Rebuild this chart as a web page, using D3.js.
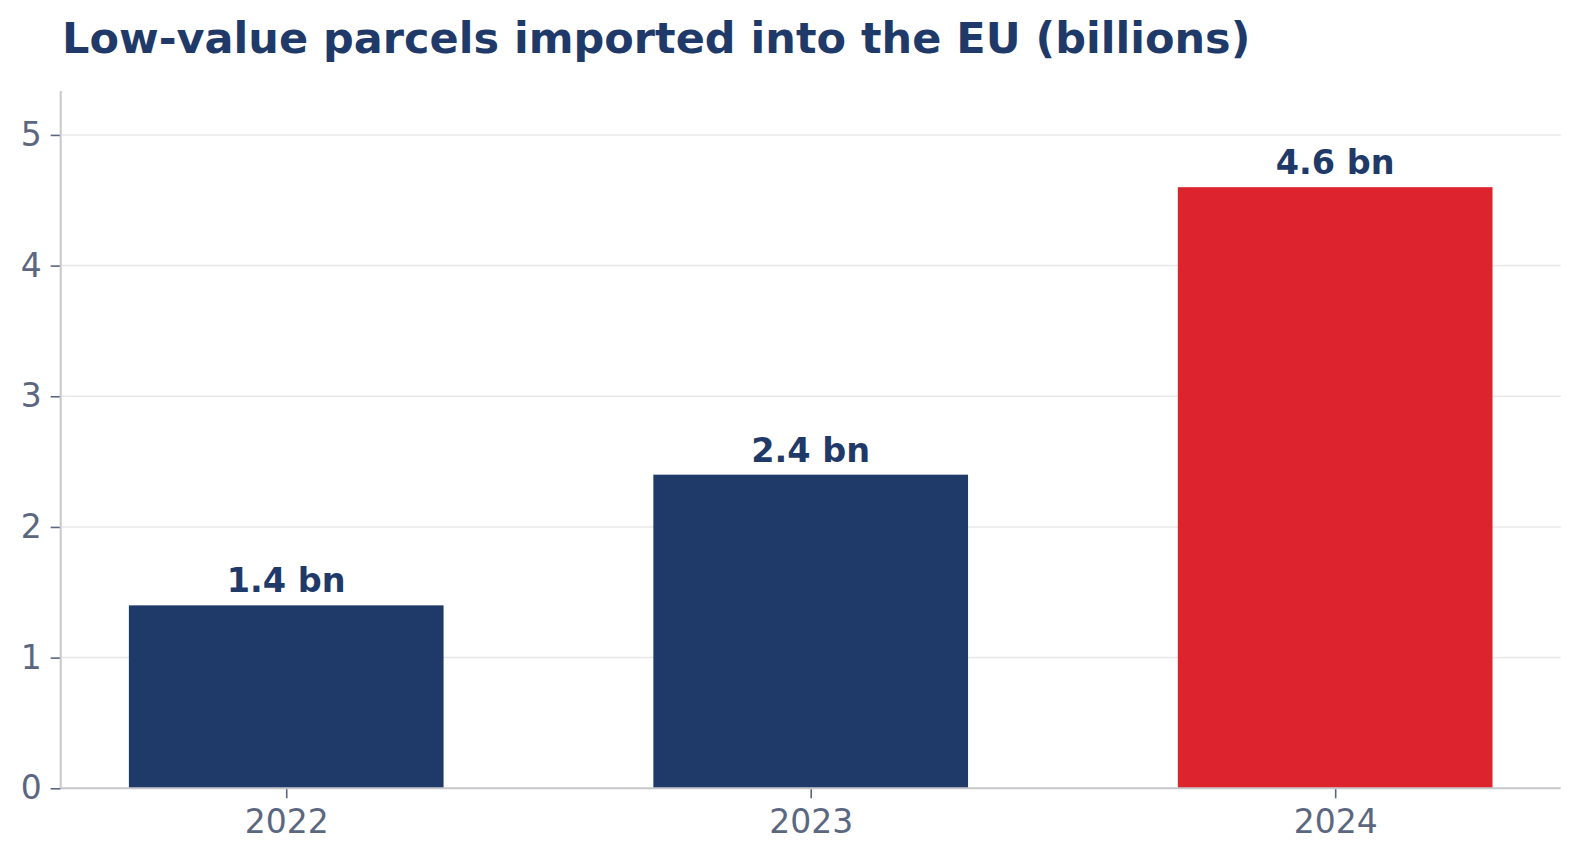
<!DOCTYPE html>
<html>
<head>
<meta charset="utf-8">
<script src="https://cdn.jsdelivr.net/npm/d3@7"></script>
<style>
  html, body { margin: 0; padding: 0; background: #fff; }
  svg text { font-family: "DejaVu Sans", sans-serif; }
</style>
</head>
<body>
<svg id="chart" width="1580" height="860"></svg>
<script>
// Chart data.
const years      = [ '2022', '2023', '2024' ];
const parcels    = [ 1.4, 2.4, 4.6 ];
const valueNames = [ '1.4 bn', '2.4 bn', '4.6 bn' ];
const yTicks     = [ 0, 1, 2, 3, 4, 5 ];

// Colours.
const navy  = '#1f3a68';
const red   = '#dc232e';
const slate = '#5b6780';

// Plot area.
const plotLeft = 60.7, plotRight = 1560.7, plotTop = 91, plotBottom = 788.3;

const svg = d3.select( '#chart' );

const x = d3.scaleLinear( )
  .domain( [ -0.43, years.length - 1 + 0.43 ] )
  .range( [ plotLeft, plotRight ] );

const y = d3.scaleLinear( )
  .domain( [ 0, d3.max( parcels ) * 1.16 ] )
  .range( [ plotBottom, plotTop ] );

const barWidth = x( 0.6 ) - x( 0 );

// Gridlines.
svg.append( 'g' )
  .selectAll( 'line' )
  .data( yTicks.filter( t => t > 0 ) )
  .enter( )
  .append( 'line' )
    .attr( 'x1', plotLeft )
    .attr( 'x2', plotRight )
    .attr( 'y1', d => y( d ) )
    .attr( 'y2', d => y( d ) )
    .attr( 'stroke', '#e8e8ea' )
    .attr( 'stroke-width', 1.5 );

// Bars.
svg.append( 'g' )
  .selectAll( 'rect' )
  .data( parcels )
  .enter( )
  .append( 'rect' )
    .attr( 'x', ( d, i ) => x( i ) - barWidth / 2 )
    .attr( 'y', d => y( d ) )
    .attr( 'width', barWidth )
    .attr( 'height', d => y( 0 ) - y( d ) )
    .attr( 'fill', ( d, i ) => i === years.length - 1 ? red : navy );

// Value labels.
svg.append( 'g' )
  .selectAll( 'text' )
  .data( parcels )
  .enter( )
  .append( 'text' )
    .attr( 'x', ( d, i ) => x( i ) )
    .attr( 'y', d => y( d ) - 13 )
    .attr( 'text-anchor', 'middle' )
    .attr( 'fill', navy )
    .attr( 'font-size', 33.5 )
    .attr( 'font-weight', 'bold' )
    .text( ( d, i ) => valueNames[ i ] );

// Y axis.
const yAxis = svg.append( 'g' )
  .attr( 'transform', `translate( ${plotLeft}, 0 )` )
  .call( d3.axisLeft( y ).tickValues( yTicks ).tickSize( 10 ).tickPadding( 9 ).tickFormat( d3.format( 'd' ) ) );

yAxis.select( '.domain' ).remove( );
yAxis.selectAll( '.tick line' ).attr( 'stroke', slate ).attr( 'stroke-width', 1.6 );
yAxis.selectAll( '.tick text' )
  .attr( 'fill', slate )
  .attr( 'font-size', 33 )
  .attr( 'font-family', '"DejaVu Sans", sans-serif' );

// X axis.
const xAxis = svg.append( 'g' )
  .attr( 'transform', `translate( 0, ${plotBottom} )` )
  .call( d3.axisBottom( x ).tickValues( d3.range( years.length ) ).tickSize( 10 ).tickPadding( 11 ).tickFormat( i => years[ i ] ) );

xAxis.select( '.domain' ).remove( );
xAxis.selectAll( '.tick line' ).attr( 'stroke', slate ).attr( 'stroke-width', 1.6 );
xAxis.selectAll( '.tick text' )
  .attr( 'fill', slate )
  .attr( 'font-size', 33 )
  .attr( 'font-family', '"DejaVu Sans", sans-serif' );

// Spines.
svg.append( 'line' )
  .attr( 'x1', plotLeft ).attr( 'x2', plotLeft )
  .attr( 'y1', plotTop ).attr( 'y2', plotBottom )
  .attr( 'stroke', '#c8c8cc' ).attr( 'stroke-width', 2 );

svg.append( 'line' )
  .attr( 'x1', plotLeft ).attr( 'x2', plotRight )
  .attr( 'y1', plotBottom ).attr( 'y2', plotBottom )
  .attr( 'stroke', '#c8c8cc' ).attr( 'stroke-width', 2 );

// Title.
svg.append( 'text' )
  .attr( 'x', 62 )
  .attr( 'y', 53 )
  .attr( 'fill', navy )
  .attr( 'font-size', 43 )
  .attr( 'font-weight', 'bold' )
  .text( 'Low-value parcels imported into the EU (billions)' );
</script>
</body>
</html>
